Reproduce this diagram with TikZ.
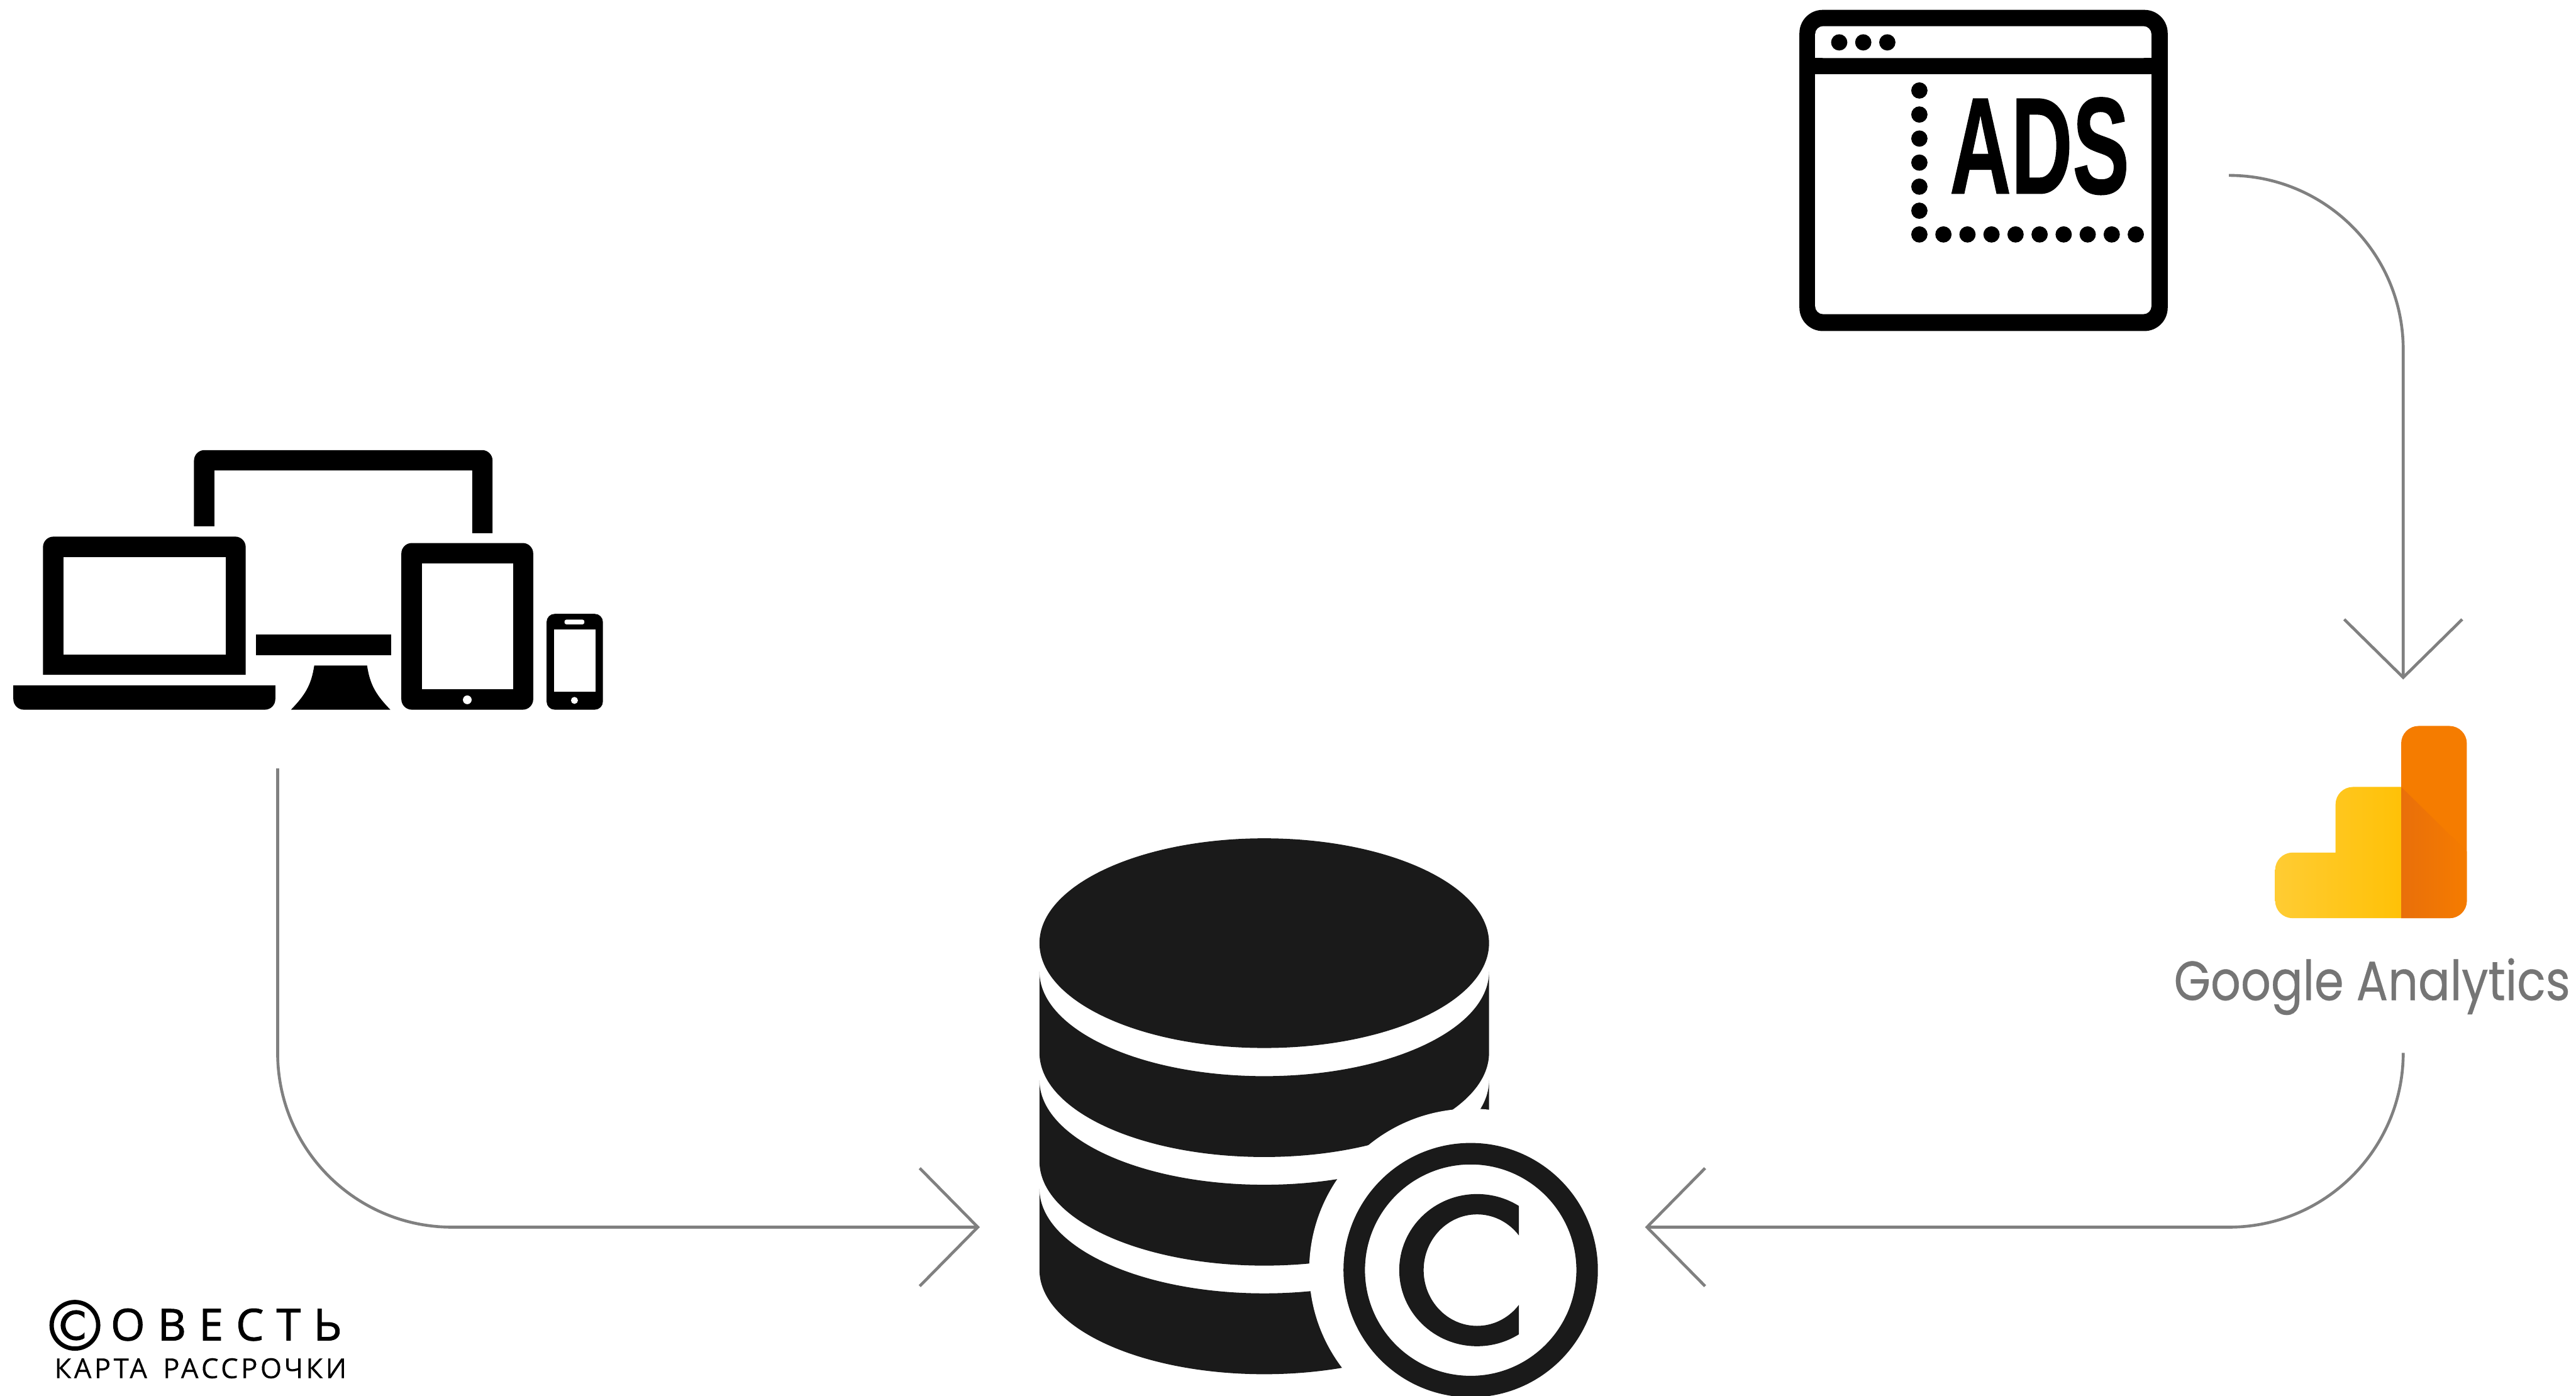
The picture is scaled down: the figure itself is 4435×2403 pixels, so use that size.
\documentclass[tikz,border=0pt]{standalone}
\usepackage{fontspec}
\usetikzlibrary{arrows.meta}
\newfontfamily\adsfont[FakeBold=0.8]{Liberation Sans}
\newfontfamily\gafont[FakeBold=0.4]{Poppins}
\newfontfamily\logofont[LetterSpace=29,FakeBold=1.5]{Open Sans}
\newfontfamily\subfont[LetterSpace=10,WordSpace=1.6,FakeBold=0.3]{Open Sans}
\definecolor{ink}{HTML}{1A1A1A}
\definecolor{flowgray}{HTML}{808080}
\definecolor{gatext}{HTML}{757575}
\definecolor{galight}{HTML}{FFCC33}
\definecolor{gayellow}{HTML}{FFC107}
\definecolor{gaorange}{HTML}{F57C00}
\definecolor{gadark}{HTML}{E96F0A}
\tikzset{
  flow/.style={->, draw=flowgray, line width=0.05cm, rounded corners=3cm},
  dotmark/.style={fill=black},
}
\newcommand{\copymark}[2]{%
  \begin{scope}[shift={#1}, scale=#2]
    \fill[even odd rule] (0,0) circle (219) (0,0) circle (182);
    \begin{scope}
      \clip (-200,-200) rectangle (83,200);
      \fill[even odd rule] (11,0) ellipse [x radius=134, y radius=131]
        (11,0) ellipse [x radius=92, y radius=96];
    \end{scope}
  \end{scope}}
\begin{document}
\begin{tikzpicture}[x=0.01cm, y=-0.01cm, >={Straight Barb[length=1cm,width=2.03cm]}]
  \useasboundingbox (0,0) rectangle (4435,2403);
  \fill[white] (0,0) rectangle (4435,2403);

  \fill[rounded corners=0.4cm] (3098,17) rectangle (3732,570);
  \fill[white, rounded corners=0.14cm] (3125,45) rectangle (3704,100);
  \fill[white, rounded corners=0.14cm] (3125,128) rectangle (3704,541);
  \fill[white] (3125,128) rectangle (3704,200);
  \fill[white] (3125,70) rectangle (3704,100);
  \foreach \i in {0,1,2}
    \fill[dotmark] ({3166.5+41.4*\i},73) circle (14);
  \foreach \i in {0,...,5}
    \fill[dotmark] (3304.5,{155.8+41.4*\i}) circle (14);
  \foreach \i in {0,...,9}
    \fill[dotmark] ({3304.5+41.4*\i},403.7) circle (14);
  \node[anchor=south west, inner sep=0pt] (adslabel) at (3356,336)
    {\resizebox{3.09cm}{1.65cm}{\adsfont\bfseries ADS}};

  \fill (334,906) [rounded corners=0.18cm] -- (334,775) -- (848,775) [sharp corners] -- (848,918) -- (813,918)
    -- (813,810) -- (369,810) -- (369,906) -- cycle;
  \fill (74,1162) [rounded corners=0.18cm] -- (74,924) -- (423,924) [sharp corners] -- (423,1162) -- cycle;
  \fill[white] (109,959) rectangle (389,1127);
  \fill (23,1180) -- (474,1180) [rounded corners=0.18cm] -- (474,1222) -- (23,1222) [sharp corners] -- cycle;
  \fill (441,1093) rectangle (674,1128);
  \fill (541,1146) -- (632,1146) .. controls (637,1180) and (648,1197) .. (672,1222) -- (501,1222)
    .. controls (525,1197) and (536,1180) .. (541,1146) -- cycle;
  \fill[rounded corners=0.18cm] (691,935) rectangle (918,1222);
  \fill[white] (726,970) rectangle (883,1187);
  \fill[white] (804.5,1205) circle (7.5);
  \fill[rounded corners=0.14cm] (941,1057) rectangle (1038,1222);
  \fill[white] (954,1084) rectangle (1025,1191);
  \fill[white] (989,1206) circle (6);
  \fill[white, rounded corners=0.03cm] (972,1067) rectangle (1006,1075);

  \shade[left color=galight, right color=gayellow] (4134,1450) -- (4134,1581) [rounded corners=0.3cm] -- (3917,1581)
    -- (3917,1468) [sharp corners] -- (4021,1468) [rounded corners=0.3cm] -- (4021,1355) [sharp corners] -- (4134,1355)
    -- cycle;
  \fill[gaorange] (4134,1400) [rounded corners=0.3cm] -- (4134,1250) -- (4247,1250) -- (4247,1581)
    [sharp corners] -- (4134,1581) -- cycle;
  \begin{scope}
    \clip (4134,1400) [rounded corners=0.3cm] -- (4134,1250) -- (4247,1250) -- (4247,1581)
      [sharp corners] -- (4134,1581) -- cycle;
    \shade[left color=gadark, right color=gaorange] (4134,1355) -- (4247,1466) -- (4247,1581) -- (4134,1581) -- cycle;
  \end{scope}
  \node[anchor=base west, inner sep=0pt, text=gatext, font=\gafont\fontsize{27}{27}\selectfont] (galabel) at (3742,1722)
    {\scalebox{0.855}[1]{Google Analytics}};

  \fill[ink] (2176.6,1624) ellipse [x radius=387, y radius=180.5];
  \foreach \k in {0,1,2}
    \fill[ink] (1789.6,{1673+187*\k}) -- (1789.6,{1812.7+187*\k})
      arc[start angle=180, end angle=0, x radius=387, y radius=179.5]
      -- (2563.6,{1673+187*\k})
      arc[start angle=0, end angle=180, x radius=387, y radius=180] -- cycle;
  \fill[white] (2532,2187) circle (278);
  \begin{scope}[ink]
    \copymark{(2532,2187)}{1}
  \end{scope}

  \copymark{(129,2282)}{0.2}
  \node[anchor=base west, inner sep=0pt, font=\logofont\fontsize{21.5}{21.5}\selectfont] (logolabel) at (190,2308) {ОВЕСТЬ};
  \node[anchor=base west, inner sep=0pt, font=\subfont\fontsize{13.5}{13.5}\selectfont] (sublabel) at (93,2373) {КАРТА РАССРОЧКИ};

  \coordinate (adsout) at (3838,302);
  \coordinate (gain) at (4137.5,1170);
  \coordinate (gaout) at (4137.5,1815);
  \coordinate (dbright) at (2832,2113);
  \coordinate (devout) at (478,1323);
  \coordinate (dbleft) at (1687,2113);
  \draw[flow] (adsout) -| (gain);
  \draw[flow] (gaout) |- (dbright);
  \draw[flow] (devout) |- (dbleft);
\end{tikzpicture}
\end{document}
